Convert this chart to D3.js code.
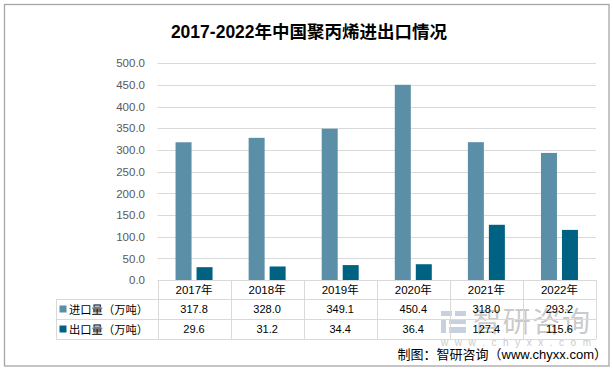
<!DOCTYPE html>
<html><head><meta charset="utf-8">
<script src="https://cdn.jsdelivr.net/npm/d3@7"></script>
<style>body{margin:0;background:#fff}</style>
</head><body>
<script>
const categories = ["2017年","2018年","2019年","2020年","2021年","2022年"];
const seriesNames = ["进口量（万吨）","出口量（万吨）"];
const importVals = [317.8,328.0,349.1,450.4,318.0,293.2];
const exportVals = [29.6,31.2,34.4,36.4,127.4,115.6];
const yTicks = [0,50,100,150,200,250,300,350,400,450,500];
const colors = ["#5b8fa7","#006283"];
const series = [importVals, exportVals];

(function(){
const W=613,H=371;
const svg=d3.select("body").append("svg").attr("width",W).attr("height",H);
svg.append("rect").attr("x",4.5).attr("y",4.5).attr("width",604.5).attr("height",361.5)
  .attr("fill","#fff").attr("stroke","#a6a6a6").attr("stroke-width",1.3);

svg.append("text").attr("x",309).attr("y",38).attr("text-anchor","middle")
  .style("font-family","'Liberation Sans','Noto Sans CJK SC'").style("font-weight","bold")
  .style("font-size","17.5px").attr("fill","#000").text("2017-2022年中国聚丙烯进出口情况");

const pLeft=157.5,pRight=596,pTop=63.3,pBottom=280;
const x=d3.scaleBand().domain(categories).range([pLeft,pRight]);
const y=d3.scaleLinear().domain([0,500]).range([pBottom,pTop]);

// gridlines
svg.append("g").selectAll("line").data(yTicks.filter(d=>d>0)).join("line")
  .attr("x1",pLeft).attr("x2",pRight).attr("y1",d=>Math.round(y(d))+0.5).attr("y2",d=>Math.round(y(d))+0.5)
  .attr("stroke","#d9d9d9").attr("stroke-width",1);

// y axis labels
const yAxis=d3.axisLeft(y).tickValues(yTicks).tickFormat(d3.format(".1f")).tickSize(0).tickPadding(0);
const ga=svg.append("g").attr("transform",`translate(145,0)`).call(yAxis);
ga.select(".domain").remove();
ga.selectAll("text").style("font-family","'Liberation Sans'").style("font-size","11.5px").attr("fill","#595959");

// bars
const bw=16, gap=5;
series.forEach((vals,si)=>{
  svg.append("g").selectAll("rect").data(vals).join("rect")
    .attr("x",(d,i)=>x(categories[i])+x.bandwidth()/2-(bw*2+gap)/2+si*(bw+gap))
    .attr("y",d=>y(d)).attr("width",bw).attr("height",d=>pBottom-y(d))
    .attr("fill",colors[si]);
});

// watermark
const wm=svg.append("g").attr("opacity",0.55);
wm.append("rect").attr("x",441).attr("y",311).attr("width",11).attr("height",5).attr("fill","#9aabc4");
wm.append("rect").attr("x",455).attr("y",311).attr("width",11).attr("height",5).attr("fill","#9aabc4");
wm.append("rect").attr("x",441).attr("y",319).attr("width",5).attr("height",14).attr("fill","#9aabc4");
wm.append("rect").attr("x",449).attr("y",319).attr("width",17).attr("height",5).attr("fill","#9aabc4");
wm.append("rect").attr("x",449).attr("y",327).attr("width",17).attr("height",6).attr("fill","#9aabc4");
wm.append("text").attr("x",473).attr("y",332).style("font-family","'Noto Sans CJK SC'").style("font-size","28px")
  .attr("textLength",117).attr("fill","#a0a0a0").text("智研咨询");
wm.append("text").attr("x",441).attr("y",346).style("font-family","'Liberation Sans'").style("font-size","10px")
  .attr("textLength",150).attr("fill","#a0a0a0").text("w w w . c h y x x . c o m");

// table
const rowY=[280,299,319,339];
const tg=svg.append("g").attr("stroke","#d9d9d9").attr("stroke-width",1);
tg.append("line").attr("x1",pLeft).attr("x2",pRight).attr("y1",280.5).attr("y2",280.5);
[299,319,339].forEach(v=>tg.append("line").attr("x1",56).attr("x2",pRight).attr("y1",v+0.5).attr("y2",v+0.5));
const xs=categories.map(c=>x(c)).concat([pRight]);
xs.forEach(v=>tg.append("line").attr("x1",Math.round(v)+0.5).attr("x2",Math.round(v)+0.5).attr("y1",280).attr("y2",339));
tg.append("line").attr("x1",56.5).attr("x2",56.5).attr("y1",299).attr("y2",339);

svg.append("g").selectAll("text").data(categories).join("text")
  .attr("x",d=>x(d)+x.bandwidth()/2).attr("y",294).attr("text-anchor","middle")
  .style("font-family","'Liberation Sans','Noto Sans CJK SC'").style("font-size","11.5px").attr("fill","#000").text(d=>d);

series.forEach((vals,si)=>{
  const cy=(rowY[si+1]+rowY[si+2])/2;
  svg.append("g").selectAll("text").data(vals).join("text")
    .attr("x",(d,i)=>x(categories[i])+x.bandwidth()/2).attr("y",cy+4).attr("text-anchor","middle")
    .style("font-family","'Liberation Sans'").style("font-size","11px").attr("fill","#000").text(d=>d.toFixed(1));
  svg.append("rect").attr("x",59.5).attr("y",cy-3.5).attr("width",7).attr("height",7).attr("fill",colors[si]);
  svg.append("text").attr("x",69).attr("y",cy+4.5).style("font-family","'Noto Sans CJK SC'").style("font-size","11.3px")
    .attr("fill","#000").text(seriesNames[si]);
});

svg.append("text").attr("x",607).attr("y",359).attr("text-anchor","end")
  .style("font-family","'Liberation Sans','Noto Sans CJK SC'").style("font-size","13px").attr("fill","#000")
  .text("制图：智研咨询（www.chyxx.com）");
})();
</script>
</body></html>
